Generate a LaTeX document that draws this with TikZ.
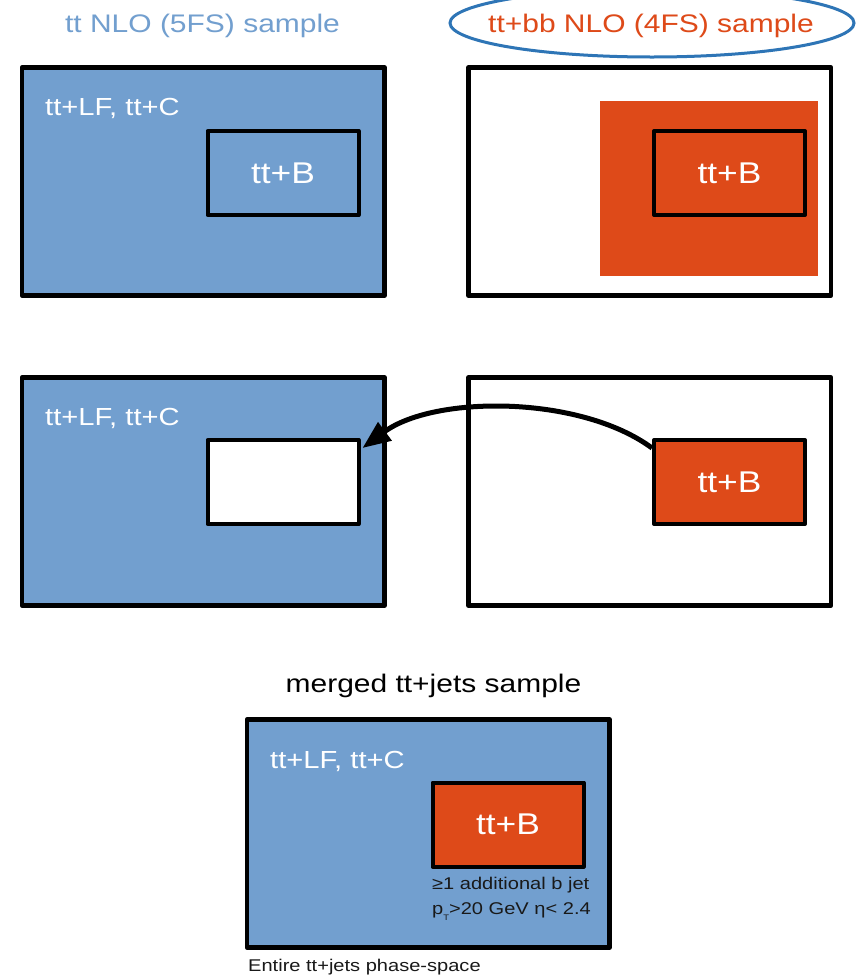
\documentclass[tikz,border=0pt]{standalone}
\usepackage{fontspec}
\setmainfont{Liberation Sans}[FakeStretch=1.18]
\usetikzlibrary{arrows.meta,shapes.geometric}
\definecolor{boxblue}{HTML}{729FCF}
\definecolor{boxorange}{HTML}{DE4A19}
\definecolor{ringblue}{HTML}{2E75B6}
\begin{document}
\begin{tikzpicture}[x=1pt,y=-1pt,
  outerbox/.style={draw=black, line width=4.5pt, line join=round, minimum width=362.5pt, minimum height=228pt, inner sep=0pt},
  innerbox/.style={draw=black, line width=4pt, line join=round, minimum width=151pt, minimum height=84pt, inner sep=0pt, text=white, font=\fontsize{30}{36}\selectfont},
  lbl/.style={anchor=base west, inner sep=0pt, text=white, font=\fontsize{24.7}{30}\selectfont},
  ttl/.style={anchor=base, inner sep=0pt, font=\fontsize{25.4}{30}\selectfont},
  small/.style={anchor=base west, inner sep=0pt, text=black!90, font=\fontsize{17}{20}\selectfont},
  movearrow/.style={line width=5pt, -{Triangle[length=28pt,width=22pt]}}
]
\useasboundingbox (0,0) rectangle (859,978);
\clip (0,0) rectangle (859,978);
\fill[white] (0,0) rectangle (859,978);

% titles
\node[ttl, text=boxblue] (t1) at (202.5,32) {tt NLO (5FS) sample};
\node[ttl, text=boxorange] (t2) at (651,32) {tt+bb NLO (4FS) sample};
\node[draw=ringblue, line width=3pt, ellipse, minimum width=404pt, minimum height=68pt, inner sep=0pt] (ring) at (652,23) {};

% top row
\node[outerbox, fill=boxblue] (tl) at (203.25,181.5) {};
\node[lbl] (tlL) at (45,115) {tt+LF, tt+C};
\node[innerbox, fill=boxblue] (tlB) at (283,173) {tt+B};

\node[outerbox] (tr) at (649.75,181.5) {};
\node[fill=boxorange, minimum width=218pt, minimum height=175pt, inner sep=0pt] (orfill) at (709,188.5) {};
\node[innerbox, fill=boxorange] (trB) at (729.5,173) {tt+B};

% middle row
\node[outerbox, fill=boxblue] (ml) at (203.25,491.5) {};
\node[lbl] (mlL) at (45,425) {tt+LF, tt+C};
\node[innerbox, fill=white] (hole) at (283,482) {};

\node[outerbox] (mr) at (649.75,491.5) {};
\node[innerbox, fill=boxorange] (mrB) at (729.5,482) {tt+B};

\draw[movearrow] ([yshift=-10pt]mrB.north west) .. controls (580,395) and (434,395) .. ([yshift=-10pt,xshift=2pt]hole.north east);

% bottom
\node[ttl, text=black] (mt) at (433.5,692) {merged tt+jets sample};
\node[outerbox, fill=boxblue] (bot) at (428.25,833.5) {};
\node[lbl] (botL) at (270,768) {tt+LF, tt+C};
\node[innerbox, fill=boxorange] (botB) at (508,824.5) {tt+B};
\node[small] (c1) at (432,889) {≥1 additional b jet};
\node[small] (c2) at (432,914) {p\raisebox{-6pt}{\fontsize{8}{8}\selectfont T}>20 GeV η< 2.4};
\node[small] (ent) at (248,971) {Entire tt+jets phase-space};
\end{tikzpicture}
\end{document}
